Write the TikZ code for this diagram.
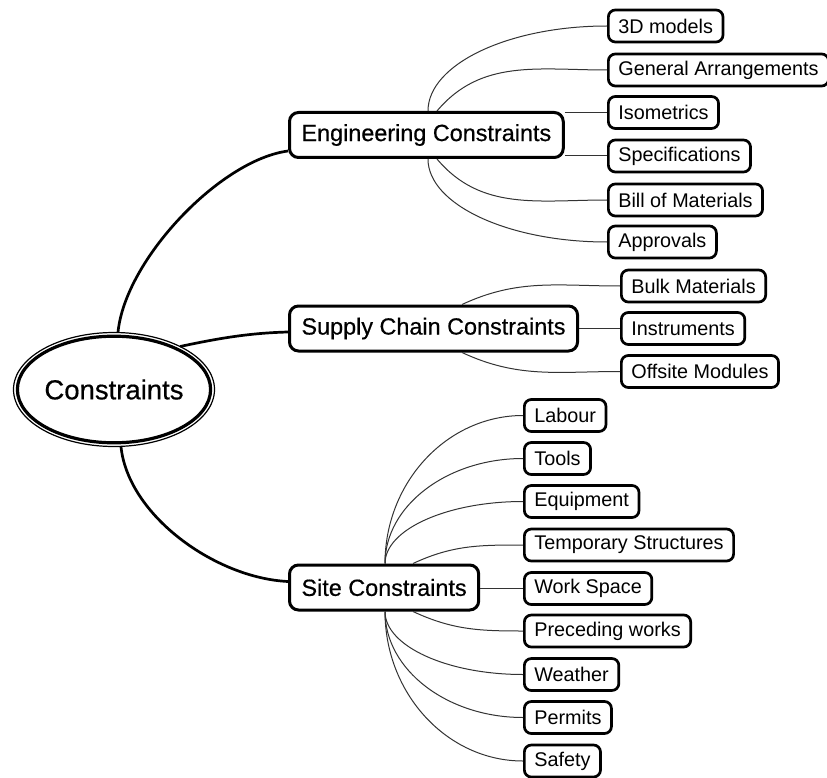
\documentclass[tikz,border=0pt]{standalone}
\usepackage{fontspec}
\setmainfont{Liberation Sans}
\newfontfamily\parentfont[FakeBold=0.5]{Liberation Sans}
\usetikzlibrary{shapes.geometric,calc}
\tikzset{
  parentbox/.style={draw, line width=3pt, rounded corners=9pt, fill=white,
    minimum height=45pt, inner xsep=12pt, anchor=west,
    font=\parentfont\fontsize{23.4}{27}\selectfont},
  childbox/.style={draw, line width=2.7pt, rounded corners=7pt, fill=white,
    minimum height=32pt, inner xsep=10pt, anchor=west,
    font=\fontsize{19.8}{23}\selectfont},
  mainline/.style={line width=2.7pt, black},
  childline/.style={line width=1pt, black!80},
}
\newcommand{\qconn}[2]{\draw[childline] (#1) .. controls ($(#1)!0.55!(#1|-#2)$) and ($(#2)!0.55!(#1|-#2)$) .. (#2);}
\begin{document}
\begin{tikzpicture}[x=1pt,y=-1pt]
\useasboundingbox (0,0) rectangle (827,778);

% root
\node[ellipse, minimum width=201pt, minimum height=114pt, inner sep=0pt] (root) at (114,389.5) {};
\draw[line width=1.2pt] (root.center) ellipse [x radius=100.5, y radius=57];
\draw[line width=3.2pt] (root.center) ellipse [x radius=96.6, y radius=53.3];
\node[font=\parentfont\fontsize{27.5}{31}\selectfont] (roottext) at (114,389.5) {Constraints};

% parents
\node[parentbox] (eng) at (288,135) {Engineering Constraints};
\node[parentbox] (sup) at (288,328.5) {Supply Chain Constraints};
\node[parentbox] (site) at (288,587.5) {Site Constraints};

% engineering children
\node[childbox] (c3d) at (607,26) {3D models};
\node[childbox] (cga) at (607,70) {General Arrangements};
\node[childbox] (ciso) at (607,112.5) {Isometrics};
\node[childbox] (cspec) at (607,156) {Specifications};
\node[childbox] (cbom) at (607,200) {Bill of Materials};
\node[childbox] (cappr) at (607,242) {Approvals};

% supply children
\node[childbox] (cbulk) at (620,286) {Bulk Materials};
\node[childbox] (cinst) at (620,328.5) {Instruments};
\node[childbox] (coff) at (620,371.5) {Offsite Modules};

% site children
\node[childbox] (clab) at (523,415.5) {Labour};
\node[childbox] (ctool) at (523,458.5) {Tools};
\node[childbox] (cequip) at (523,501.5) {Equipment};
\node[childbox] (ctemp) at (523,545) {Temporary Structures};
\node[childbox] (cwork) at (523,588.5) {Work Space};
\node[childbox] (cprec) at (523,631) {Preceding works};
\node[childbox] (cweath) at (523,674.5) {Weather};
\node[childbox] (cperm) at (523,717.5) {Permits};
\node[childbox] (csafe) at (523,761) {Safety};

% main branches
\coordinate (rootN) at ($(root.north)+(4,0)$);
\coordinate (rootS) at ($(root.south)+(7,0)$);
\coordinate (engIn) at ($(eng.south west)+(0,-8)$);
\coordinate (supIn) at ($(sup.west)+(0,3.5)$);
\coordinate (siteIn) at ($(site.west)+(0,-6)$);
\draw[mainline] (rootN) .. controls (125,260) and (220,160) .. (engIn);
\draw[mainline] (root.33) .. controls (220,338) and (250,333) .. (supIn);
\draw[mainline] (rootS) .. controls (128,515) and (215,578) .. (siteIn);

% engineering connectors
\coordinate (eT1) at ($(eng.north west)+(140,0)$);
\coordinate (eT2) at ($(eng.north west)+(149,0)$);
\coordinate (eB1) at ($(eng.south west)+(140,0)$);
\coordinate (eB2) at ($(eng.south west)+(149,0)$);
\qconn{eT1}{c3d.west}
\draw[childline] (eT2) to[out=50,in=180] (cga.west);
\draw[childline] (eng.east |- ciso.west) -- (ciso.west);
\draw[childline] (eng.east |- cspec.west) -- (cspec.west);
\draw[childline] (eB2) to[out=-50,in=180] (cbom.west);
\qconn{eB1}{cappr.west}

% supply connectors
\coordinate (sT) at ($(sup.north west)+(174,0)$);
\coordinate (sB) at ($(sup.south west)+(174,0)$);
\draw[childline] (sT) to[out=25,in=180] (cbulk.west);
\draw[childline] (sup.east |- cinst.west) -- (cinst.west);
\draw[childline] (sB) to[out=-25,in=180] (coff.west);

% site connectors
\coordinate (tT1) at ($(site.north west)+(97,0)$);
\coordinate (tT2) at ($(site.north west)+(125,0)$);
\coordinate (tB1) at ($(site.south west)+(97,0)$);
\coordinate (tB2) at ($(site.south west)+(125,0)$);
\qconn{tT1}{clab.west}
\qconn{tT1}{ctool.west}
\qconn{tT1}{cequip.west}
\draw[childline] (tT2) to[out=25,in=180] (ctemp.west);
\draw[childline] (site.east |- cwork.west) -- (cwork.west);
\draw[childline] (tB2) to[out=-25,in=180] (cprec.west);
\qconn{tB1}{cweath.west}
\qconn{tB1}{cperm.west}
\qconn{tB1}{csafe.west}
\end{tikzpicture}
\end{document}
